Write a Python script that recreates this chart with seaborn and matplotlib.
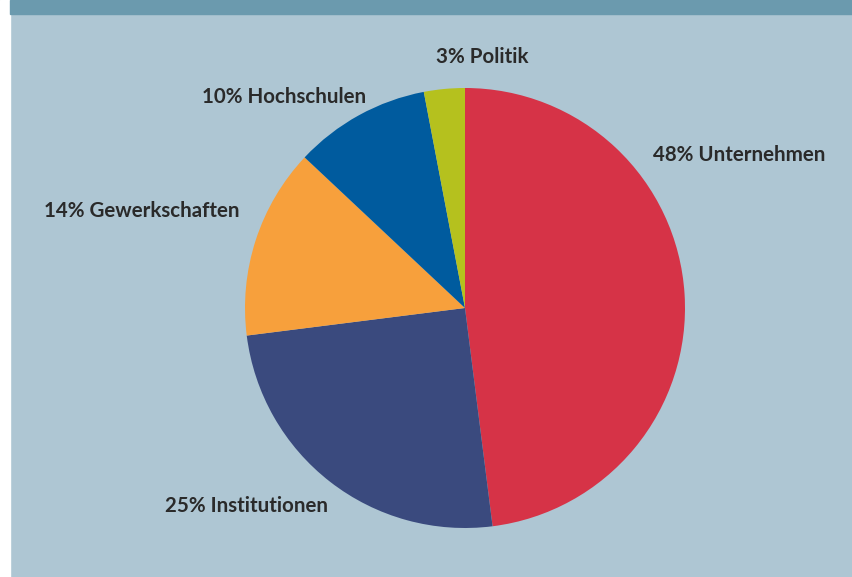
import matplotlib.pyplot as plt
import seaborn as sns
from matplotlib.patches import Rectangle

sns.set_theme(style="white")
plt.rcParams['font.family'] = ['Lato', 'DejaVu Sans']

# data
groups = ['Unternehmen', 'Institutionen', 'Gewerkschaften', 'Hochschulen', 'Politik']
shares = [48, 25, 14, 10, 3]
colors = ['#D63347', '#3A4A7E', '#F7A03C', '#005B9E', '#B5C11E']

# label spots, in pie radius units (centre = 0,0)
label_pos = [(0.855, 0.695), (-1.365, -0.90), (-1.915, 0.44), (-1.195, 0.96), (-0.13, 1.14)]

W, H = 853, 577
fig = plt.figure(figsize=(W / 100, H / 100), dpi=100)
fig.patch.set_facecolor('#AEC6D3')

# white strip on the left and the dark header band
fig.patches.append(Rectangle((0, 0), 10 / W, 1, transform=fig.transFigure,
                             color='white', zorder=0))
fig.patches.append(Rectangle((10 / W, 1 - 14 / H), 1, 14 / H, transform=fig.transFigure,
                             color='#6B9AAE', zorder=0))

cx, cy, r = 465, 308, 220
ax = fig.add_axes([(cx - r) / W, (H - cy - r) / H, 2 * r / W, 2 * r / H])
ax.set_facecolor('none')

ax.pie(shares, colors=colors, startangle=90, counterclock=False, radius=1,
       wedgeprops=dict(linewidth=0))
ax.set_xlim(-1, 1)
ax.set_ylim(-1, 1)
ax.set_aspect('auto')
ax.axis('off')

for g, s, (x, y) in zip(groups, shares, label_pos):
    ax.text(x, y, f'{s}% {g}', ha='left', va='center', fontsize=14.8,
            fontweight='bold', color='#2A2A2A', clip_on=False)

fig.savefig('out.png', dpi=100, facecolor=fig.get_facecolor())
